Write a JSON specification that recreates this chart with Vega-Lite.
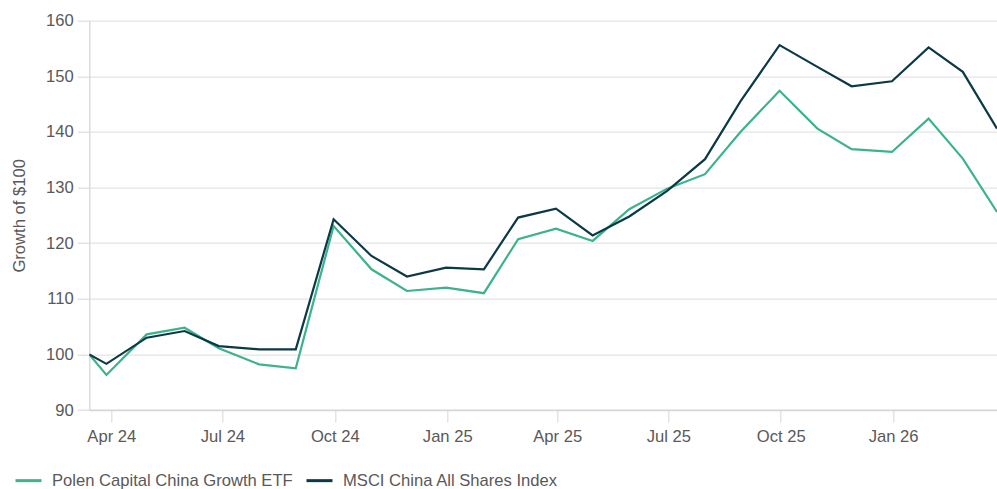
{
  "$schema": "https://vega.github.io/schema/vega-lite/v6.json",
  "autosize": {"type": "none"},
  "width": 907.7,
  "height": 389.3,
  "padding": {"left": 89.3, "top": 20.7, "right": 0, "bottom": 79},
  "background": "white",
  "config": {
    "view": {"stroke": null},
    "font": "Liberation Sans",
    "axis": {
      "labelFont": "Liberation Sans",
      "titleFont": "Liberation Sans",
      "labelFontSize": 16.6,
      "titleFontSize": 16.6,
      "labelColor": "#595959",
      "titleColor": "#595959",
      "titleFontWeight": "normal",
      "gridColor": "#e4e4e4",
      "gridWidth": 1.3,
      "domainColor": "#d6d6d6",
      "domainWidth": 1.3,
      "tickColor": "#e0e0e0",
      "tickWidth": 1.3,
      "tickSize": 12
    },
    "legend": {
      "labelFont": "Liberation Sans",
      "labelFontSize": 16.6,
      "labelColor": "#595959",
      "labelLimit": 0
    }
  },
  "data": {
    "values": [
      {"date": "2024-03-14", "series": "Polen Capital China Growth ETF", "value": 100},
      {"date": "2024-03-28", "series": "Polen Capital China Growth ETF", "value": 96.3},
      {"date": "2024-04-30", "series": "Polen Capital China Growth ETF", "value": 103.6},
      {"date": "2024-05-31", "series": "Polen Capital China Growth ETF", "value": 104.8},
      {"date": "2024-06-28", "series": "Polen Capital China Growth ETF", "value": 101.1},
      {"date": "2024-07-31", "series": "Polen Capital China Growth ETF", "value": 98.2},
      {"date": "2024-08-30", "series": "Polen Capital China Growth ETF", "value": 97.5},
      {"date": "2024-09-30", "series": "Polen Capital China Growth ETF", "value": 123.1},
      {"date": "2024-10-31", "series": "Polen Capital China Growth ETF", "value": 115.3},
      {"date": "2024-11-29", "series": "Polen Capital China Growth ETF", "value": 111.4},
      {"date": "2024-12-31", "series": "Polen Capital China Growth ETF", "value": 112.0},
      {"date": "2025-01-31", "series": "Polen Capital China Growth ETF", "value": 111.0},
      {"date": "2025-02-28", "series": "Polen Capital China Growth ETF", "value": 120.7},
      {"date": "2025-03-31", "series": "Polen Capital China Growth ETF", "value": 122.6},
      {"date": "2025-04-30", "series": "Polen Capital China Growth ETF", "value": 120.4},
      {"date": "2025-05-30", "series": "Polen Capital China Growth ETF", "value": 126.1},
      {"date": "2025-06-30", "series": "Polen Capital China Growth ETF", "value": 129.8},
      {"date": "2025-07-31", "series": "Polen Capital China Growth ETF", "value": 132.4},
      {"date": "2025-08-29", "series": "Polen Capital China Growth ETF", "value": 140.0},
      {"date": "2025-09-30", "series": "Polen Capital China Growth ETF", "value": 147.4},
      {"date": "2025-10-31", "series": "Polen Capital China Growth ETF", "value": 140.6},
      {"date": "2025-11-28", "series": "Polen Capital China Growth ETF", "value": 136.9},
      {"date": "2025-12-31", "series": "Polen Capital China Growth ETF", "value": 136.4},
      {"date": "2026-01-30", "series": "Polen Capital China Growth ETF", "value": 142.4},
      {"date": "2026-02-27", "series": "Polen Capital China Growth ETF", "value": 135.2},
      {"date": "2026-03-27", "series": "Polen Capital China Growth ETF", "value": 125.6},
      {"date": "2024-03-14", "series": "MSCI China All Shares Index", "value": 100},
      {"date": "2024-03-28", "series": "MSCI China All Shares Index", "value": 98.3},
      {"date": "2024-04-30", "series": "MSCI China All Shares Index", "value": 103.0},
      {"date": "2024-05-31", "series": "MSCI China All Shares Index", "value": 104.2},
      {"date": "2024-06-28", "series": "MSCI China All Shares Index", "value": 101.5},
      {"date": "2024-07-31", "series": "MSCI China All Shares Index", "value": 100.9},
      {"date": "2024-08-30", "series": "MSCI China All Shares Index", "value": 100.9},
      {"date": "2024-09-30", "series": "MSCI China All Shares Index", "value": 124.3},
      {"date": "2024-10-31", "series": "MSCI China All Shares Index", "value": 117.7},
      {"date": "2024-11-29", "series": "MSCI China All Shares Index", "value": 114.0},
      {"date": "2024-12-31", "series": "MSCI China All Shares Index", "value": 115.6},
      {"date": "2025-01-31", "series": "MSCI China All Shares Index", "value": 115.3},
      {"date": "2025-02-28", "series": "MSCI China All Shares Index", "value": 124.6},
      {"date": "2025-03-31", "series": "MSCI China All Shares Index", "value": 126.2},
      {"date": "2025-04-30", "series": "MSCI China All Shares Index", "value": 121.4},
      {"date": "2025-05-30", "series": "MSCI China All Shares Index", "value": 124.8},
      {"date": "2025-06-30", "series": "MSCI China All Shares Index", "value": 129.4},
      {"date": "2025-07-31", "series": "MSCI China All Shares Index", "value": 135.1},
      {"date": "2025-08-29", "series": "MSCI China All Shares Index", "value": 145.5},
      {"date": "2025-09-30", "series": "MSCI China All Shares Index", "value": 155.6},
      {"date": "2025-10-31", "series": "MSCI China All Shares Index", "value": 151.7},
      {"date": "2025-11-28", "series": "MSCI China All Shares Index", "value": 148.2},
      {"date": "2025-12-31", "series": "MSCI China All Shares Index", "value": 149.1},
      {"date": "2026-01-30", "series": "MSCI China All Shares Index", "value": 155.2},
      {"date": "2026-02-27", "series": "MSCI China All Shares Index", "value": 150.8},
      {"date": "2026-03-27", "series": "MSCI China All Shares Index", "value": 140.6}
    ]
  },
  "mark": {"type": "line", "strokeWidth": 2.2, "strokeJoin": "miter", "clip": true},
  "encoding": {
    "x": {
      "field": "date",
      "type": "temporal",
      "scale": {
        "type": "utc",
        "domain": [
          {"year": 2024, "month": 3, "date": 14, "utc": true},
          {"year": 2026, "month": 3, "date": 27, "utc": true}
        ]
      },
      "axis": {
        "title": null,
        "grid": false,
        "format": "%b %y",
        "labelPadding": 6,
        "values": [
          {"year": 2024, "month": 4, "date": 1, "utc": true},
          {"year": 2024, "month": 7, "date": 1, "utc": true},
          {"year": 2024, "month": 10, "date": 1, "utc": true},
          {"year": 2025, "month": 1, "date": 1, "utc": true},
          {"year": 2025, "month": 4, "date": 1, "utc": true},
          {"year": 2025, "month": 7, "date": 1, "utc": true},
          {"year": 2025, "month": 10, "date": 1, "utc": true},
          {"year": 2026, "month": 1, "date": 1, "utc": true}
        ]
      }
    },
    "y": {
      "field": "value",
      "type": "quantitative",
      "scale": {"domain": [90, 160], "nice": false, "zero": false},
      "axis": {
        "title": "Growth of $100",
        "values": [90, 100, 110, 120, 130, 140, 150, 160],
        "labelPadding": 4,
        "titlePadding": 18,
        "domain": true
      }
    },
    "color": {
      "field": "series",
      "type": "nominal",
      "scale": {
        "domain": ["Polen Capital China Growth ETF", "MSCI China All Shares Index"],
        "range": ["#3bb38b", "#0c3947"]
      },
      "legend": {
        "title": null,
        "orient": "none",
        "direction": "horizontal",
        "legendX": -75.3,
        "legendY": 445,
        "symbolType": "stroke",
        "symbolSize": 676,
        "symbolStrokeWidth": 3,
        "labelOffset": 9,
        "columnPadding": 7,
        "labelLimit": 0
      }
    }
  }
}
